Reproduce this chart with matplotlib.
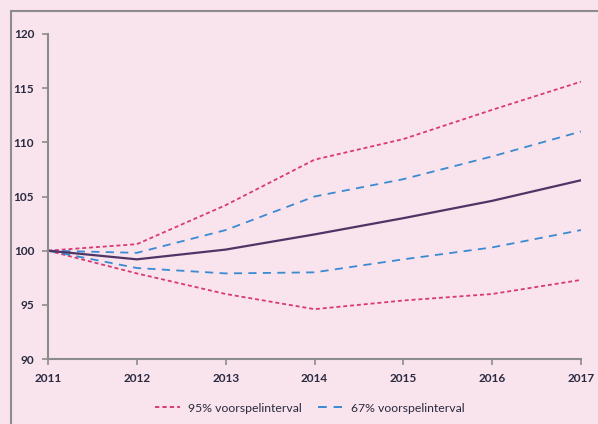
import matplotlib.pyplot as plt
from matplotlib.patches import Rectangle

years = [2011, 2012, 2013, 2014, 2015, 2016, 2017]
median = [100.0, 99.2, 100.1, 101.5, 103.0, 104.6, 106.5]
upper95 = [100.0, 100.6, 104.2, 108.4, 110.3, 113.0, 115.6]
upper67 = [100.0, 99.8, 101.9, 105.0, 106.6, 108.7, 111.0]
lower67 = [100.0, 98.4, 97.9, 98.0, 99.2, 100.3, 101.9]
lower95 = [100.0, 97.9, 96.0, 94.6, 95.4, 96.0, 97.3]
yticks = [90, 95, 100, 105, 110, 115, 120]

BG = "#f9e3ec"
PINK = "#d93a73"
BLUE = "#3a8ad2"
PURPLE = "#4e3566"
GREY = "#8c8c8c"

fig = plt.figure(figsize=(5.98, 4.24), dpi=100, facecolor=BG)
# grey frame round the whole chart (runs off the right and bottom edges)
fig.patches.append(Rectangle((11 / 598, -0.1), 1.2, 1.1 - 11 / 424, transform=fig.transFigure,
                             fill=False, edgecolor=GREY, linewidth=1.5, zorder=0))
ax = fig.add_axes([48 / 598, 1 - 359 / 424, (581 - 48) / 598, (359 - 34) / 424])
ax.set_facecolor(BG)

ax.plot(years, upper95, color=PINK, linewidth=1.3, dashes=(2.2, 1.6))
ax.plot(years, lower95, color=PINK, linewidth=1.3, dashes=(2.2, 1.6))
ax.plot(years, upper67, color=BLUE, linewidth=1.3, dashes=(4.5, 3.5))
ax.plot(years, lower67, color=BLUE, linewidth=1.3, dashes=(4.5, 3.5))
ax.plot(years, median, color=PURPLE, linewidth=1.6)

ax.set_xlim(2011, 2017)
ax.set_ylim(90, 120)
ax.set_xticks(years)
ax.set_yticks(yticks)
for s in ["top", "right"]:
    ax.spines[s].set_visible(False)
for s in ["left", "bottom"]:
    ax.spines[s].set_color(GREY)
    ax.spines[s].set_linewidth(1.5)
ax.tick_params(colors=GREY, length=4, width=1.2, labelcolor="#2a2a40", labelsize=8.5)
for lbl in ax.get_xticklabels() + ax.get_yticklabels():
    lbl.set_fontweight("bold")
    lbl.set_family("Lato")
ax.tick_params(axis="x", pad=6)
ax.tick_params(axis="y", pad=6)

h1, = ax.plot([], [], color=PINK, linewidth=1.4, dashes=(2.2, 1.6))
h2, = ax.plot([], [], color=BLUE, linewidth=1.4, dashes=(4.5, 3.5))
fig.legend([h1, h2], ["95% voorspelinterval", "67% voorspelinterval"],
           loc="center", bbox_to_anchor=(0.518, 1 - 408 / 424), ncol=2, frameon=False,
           prop={"family": "Lato", "size": 8.8}, handlelength=2.0, handletextpad=0.7,
           columnspacing=1.3, labelcolor="#2a2a40")

fig.savefig("out.png", dpi=100, facecolor=BG)
